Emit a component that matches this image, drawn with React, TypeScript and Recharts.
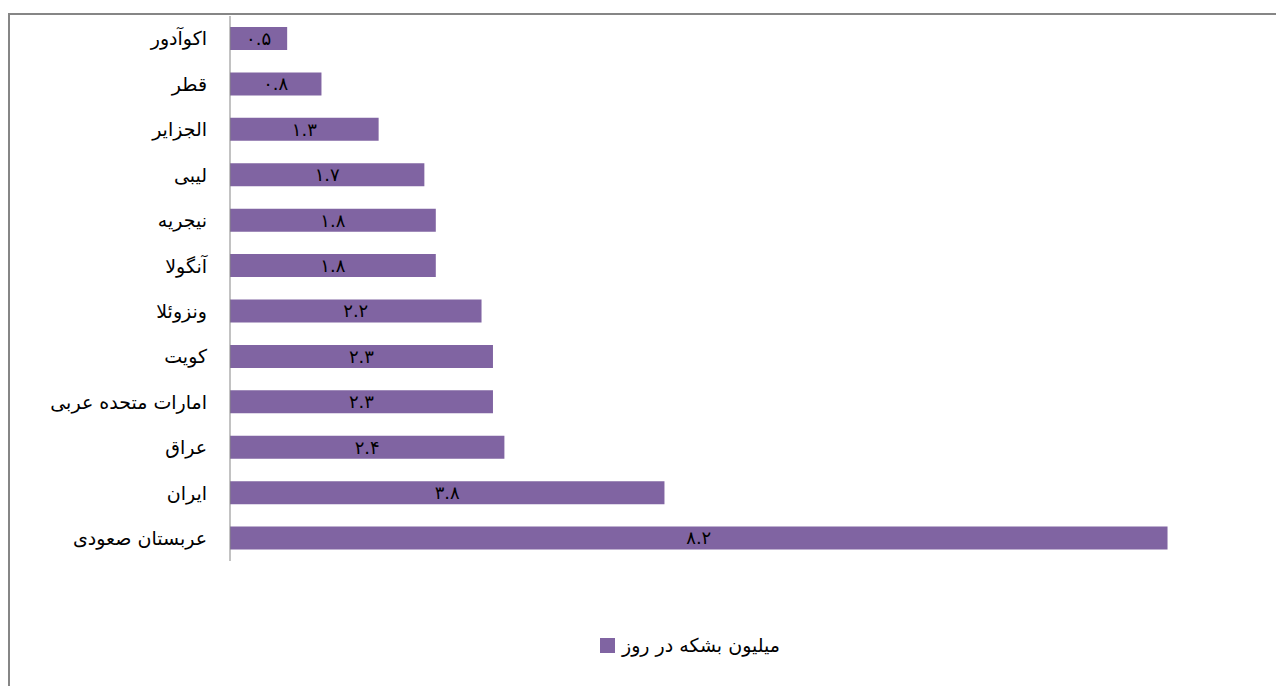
import React from "react";
import { BarChart, Bar, XAxis, YAxis, LabelList, Legend } from "recharts";

const categories: string[] = [
  "اکوآدور",
  "قطر",
  "الجزایر",
  "لیبی",
  "نیجریه",
  "آنگولا",
  "ونزوئلا",
  "کویت",
  "امارات متحده عربی",
  "عراق",
  "ایران",
  "عربستان صعودی",
];
const values: number[] = [0.5, 0.8, 1.3, 1.7, 1.8, 1.8, 2.2, 2.3, 2.3, 2.4, 3.8, 8.2];
const seriesName = "میلیون بشکه در روز";

const data = categories.map((c, i) => ({ name: c, value: values[i] }));

const persianDigits = "۰۱۲۳۴۵۶۷۸۹";
const toPersian = (v: number | string) =>
  String(v).replace(/[0-9]/g, (d) => persianDigits[Number(d)]);

const FONT = "'DejaVu Sans', sans-serif";
const PURPLE = "#8064A2";
const GRAY = "#868686";

const LegendContent = () => (
  <div
    style={{
      height: 20,
      display: "flex",
      alignItems: "center",
      justifyContent: "flex-start",
      fontFamily: FONT,
      fontSize: 19,
      color: "#000",
      whiteSpace: "nowrap",
    }}
  >
    <span style={{ width: 15, height: 15, background: PURPLE, display: "inline-block", marginRight: 7 }} />
    <span style={{ direction: "rtl" }}>{seriesName}</span>
  </div>
);

export default function App() {
  return (
    <div
      style={{
        position: "fixed",
        left: 0,
        top: 0,
        width: 1276,
        height: 686,
        overflow: "hidden",
        background: "#fff",
      }}
    >
      <div
        style={{
          position: "absolute",
          left: 8,
          top: 13,
          width: 1400,
          height: 800,
          border: `2px solid ${GRAY}`,
          boxSizing: "border-box",
        }}
      />
      <div style={{ position: "absolute", left: 0, top: 0 }}>
        <BarChart
          width={1276}
          height={686}
          data={data}
          layout="vertical"
          margin={{ top: 16, right: 17, bottom: 105, left: 0 }}
        >
          <XAxis type="number" domain={[0, 9]} hide />
          <YAxis
            type="category"
            dataKey="name"
            width={230}
            tickLine={false}
            tickSize={0}
            tickMargin={23}
            axisLine={{ stroke: GRAY, strokeWidth: 1 }}
            tick={{ fill: "#000", fontSize: 19, fontFamily: FONT }}
            interval={0}
          />
          <Legend
            content={<LegendContent />}
            wrapperStyle={{ top: 635, left: 600, width: 320 }}
          />
          <Bar dataKey="value" name={seriesName} fill={PURPLE} barSize={23} isAnimationActive={false}>
            <LabelList
              dataKey="value"
              position="center"
              formatter={(v: any) => toPersian(v)}
              style={{ fill: "#000", fontSize: 18, fontFamily: FONT }}
            />
          </Bar>
        </BarChart>
      </div>
    </div>
  );
}
